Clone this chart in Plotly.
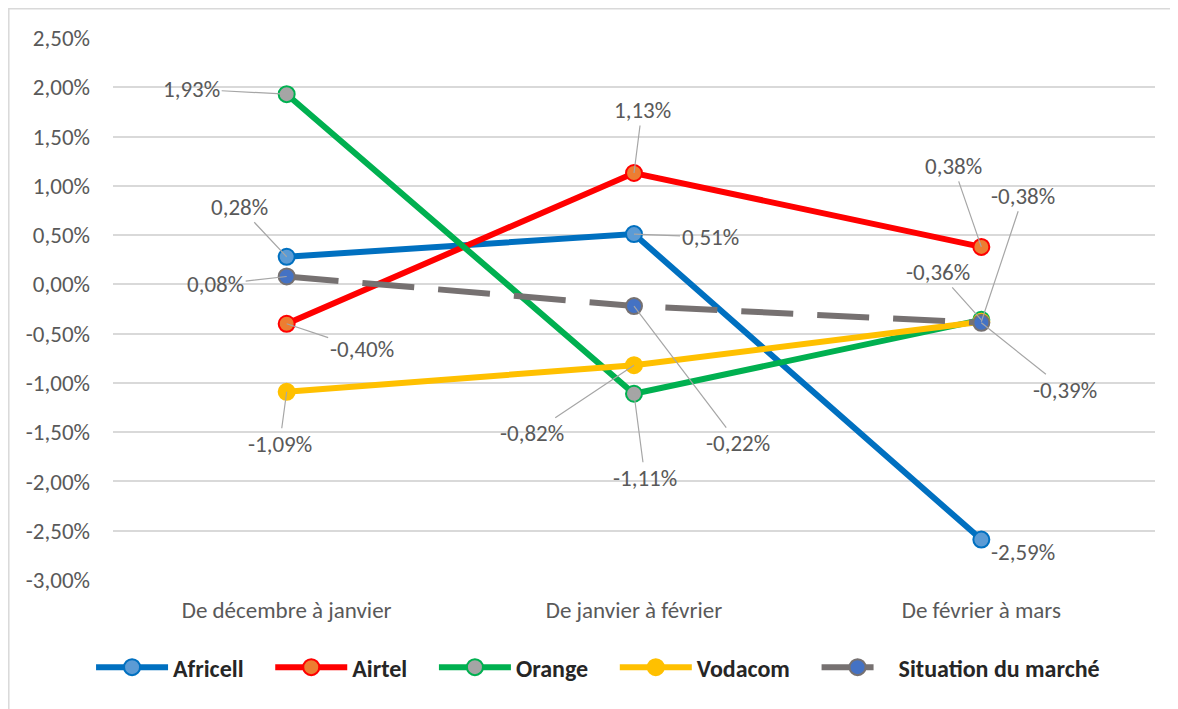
import plotly.graph_objects as go

categories = ["De décembre à janvier", "De janvier à février", "De février à mars"]
africell = [0.28, 0.51, -2.59]
airtel = [-0.40, 1.13, 0.38]
orange = [1.93, -1.11, -0.36]
vodacom = [-1.09, -0.82, -0.38]
marche = [0.08, -0.22, -0.39]
y_ticks = [2.5, 2.0, 1.5, 1.0, 0.5, 0.0, -0.5, -1.0, -1.5, -2.0, -2.5, -3.0]

series = [
    ("Africell", africell, "#0070C0", "#5B9BD5", "#0070C0", "solid"),
    ("Airtel", airtel, "#FF0000", "#ED7D31", "#FF0000", "solid"),
    ("Orange", orange, "#00B050", "#A5A5A5", "#00B050", "solid"),
    ("Vodacom", vodacom, "#FFC000", "#FFC000", "#FFC000", "solid"),
    ("Situation du marché", marche, "#767171", "#4472C4", "#767171", "52px,24px"),
]

def fr(v):
    return f"{v:.2f}".replace(".", ",") + "%"

PAD = "\u00a0" * 4

fig = go.Figure()
for k, (name, vals, lc, mfill, mline, dash) in enumerate(series):
    fig.add_trace(go.Scatter(
        x=categories, y=vals,
        name=name + (PAD if k < len(series) - 1 else ""),
        mode="lines+markers",
        line=dict(color=lc, width=6, dash=dash),
        marker=dict(size=16, color=mfill, line=dict(color=mline, width=2)),
        hoverinfo="skip",
    ))

# label offsets (ax, ay) in pixels per series/point
offsets = {
    "Africell": [(-47, -50), (76, 3), (42, 12)],
    "Airtel": [(75, 25), (8, -63), (-28, -81)],
    "Orange": [(-95, -5), (11, 84), (-43, -48)],
    "Vodacom": [(-7, 52), (-102, 68), (42, -126)],
    "Situation du marché": [(-71, 8), (104, 137), (84, 67)],
}
font_lab = "Carlito, Calibri, 'Liberation Sans Narrow', 'Open Sans', sans-serif"
for name, vals, *_ in series:
    for i, (c, v) in enumerate(zip(categories, vals)):
        ax, ay = offsets[name][i]
        show_arrow_line = not (name == "Africell" and i == 2)
        fig.add_annotation(
            x=c, y=v, text=fr(v), ax=ax, ay=ay, showarrow=True,
            arrowhead=0, arrowwidth=1.2,
            arrowcolor="#A6A6A6" if show_arrow_line else "rgba(0,0,0,0)",
            font=dict(family=font_lab, size=23, color="#595959"),
        )

fig.add_shape(type="rect", xref="paper", yref="paper",
              x0=-0.1, x1=1.03, y0=-0.25, y1=1.054,
              line=dict(color="#D9D9D9", width=1.5), fillcolor="rgba(0,0,0,0)", layer="below")

fig.update_layout(
    width=1170, height=701,
    margin=dict(l=105, r=23, t=30, b=129, autoexpand=False),
    paper_bgcolor="white", plot_bgcolor="white",
    showlegend=True,
    legend=dict(orientation="h", x=0.4655, xanchor="center", y=-0.12, yanchor="top",
                font=dict(family=font_lab, size=24, color="#262626", weight="bold"),
                itemwidth=72, tracegroupgap=0),
    xaxis=dict(type="category", range=[-0.5, 2.5], showgrid=False, showline=False,
               zeroline=False,
               tickfont=dict(family=font_lab, size=23, color="#595959"), ticks="",
               ticklabelstandoff=14),
    yaxis=dict(range=[-3, 2.5], tickvals=y_ticks, ticktext=[fr(t) for t in y_ticks],
               showgrid=True, gridcolor="#D9D9D9", gridwidth=1.5, zeroline=False,
               showline=False, ticks="",
               tickfont=dict(family=font_lab, size=23, color="#595959"),
               ticklabelstandoff=22),
)
fig.write_html("out.html")
